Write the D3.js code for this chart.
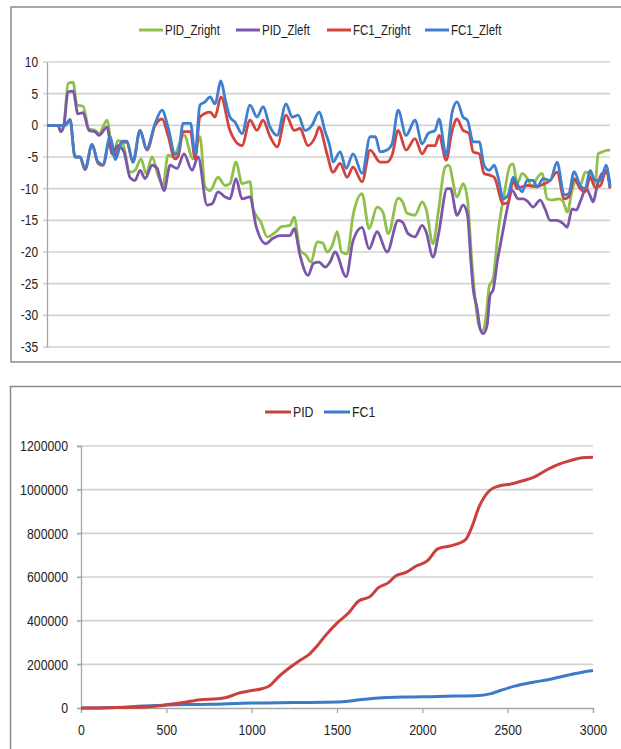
<!DOCTYPE html>
<html><head><meta charset="utf-8">
<script src="https://cdn.jsdelivr.net/npm/d3@7"></script>
<style>
html,body{margin:0;padding:0;background:#fff;}
svg{display:block;}
text{font-family:"Liberation Sans",Arial,sans-serif;fill:#222;}
</style></head>
<body>
<svg id="c" width="621" height="749"></svg>
<script>
// ---------- DATA ----------
const topSeriesNames = ["PID_Zright","PID_Zleft","FC1_Zright","FC1_Zleft"];
const topYTicks = [10,5,0,-5,-10,-15,-20,-25,-30,-35];

const pidZright = [[0,0],[59,0],[73,-1],[90,0],[112,6.6],[139,6.8],[160,3.2],[192,3],[224,-0.6],[256,-0.8],[277,-1.3],[320,0.8],[352,-4.7],[378,-2.4],[400,-2.6],[442,-7.4],[469,-7.1],[501,-5.3],[528,-7.6],[560,-5],[592,-7.9],[618,-9.5],[645,-4.7],[672,-5],[730,-1.5],[778,-5.3],[815,-1.8],[842,-9.7],[869,-10.3],[911,-8.2],[949,-9.5],[975,-9.2],[1007,-5.8],[1039,-9.2],[1082,-8.9],[1098,-13.2],[1140,-15.3],[1173,-17.6],[1220,-16.8],[1250,-16],[1295,-15.8],[1317,-14.5],[1348,-19.7],[1380,-20.5],[1407,-21.6],[1439,-18.4],[1470,-18.6],[1492,-20],[1520,-19],[1546,-16.8],[1570,-20],[1599,-20.3],[1631,-14.2],[1679,-10.8],[1716,-16.3],[1759,-12.9],[1790,-13.7],[1818,-17.1],[1871,-11.5],[1895,-12.1],[1919,-13.9],[1960,-14.2],[1999,-12.1],[2020,-13.2],[2057,-18.7],[2085,-13.7],[2121,-6.6],[2140,-6.3],[2185,-11.3],[2217,-9.2],[2240,-11.6],[2265,-22],[2280,-27],[2300,-31.5],[2320,-32.5],[2340,-30],[2356,-25.5],[2377,-24.2],[2404,-16.8],[2441,-10],[2468,-6.3],[2484,-6.1],[2505,-9.2],[2532,-7.6],[2560,-8.4],[2585,-9.7],[2610,-8.4],[2638,-7.6],[2665,-11.6],[2690,-11.8],[2730,-11.6],[2750,-12],[2772,-13.7],[2798,-10.3],[2820,-8.7],[2841,-9.5],[2868,-7.4],[2894,-7.6],[2921,-9.2],[2937,-4.5],[2958,-4.2],[2990,-3.9],[3000,-4]];

const pidZleft = [[0,0],[59,0],[73,-1],[90,0],[112,5.3],[139,5.4],[165,1.8],[192,2],[224,-0.8],[256,-1],[277,-1.6],[320,-0.3],[347,-4.5],[378,-3.2],[410,-4.2],[442,-8.2],[469,-8.7],[496,-7.1],[523,-8.4],[560,-6.3],[587,-6.8],[602,-8.4],[624,-10.3],[656,-6.3],[693,-6.8],[730,-4.5],[773,-7.1],[805,-5],[853,-12.6],[880,-12.4],[911,-10.5],[949,-11.3],[975,-11.6],[1007,-8.4],[1039,-11.6],[1082,-11.3],[1113,-15.8],[1167,-18.7],[1200,-17.9],[1240,-17.4],[1295,-17.4],[1317,-16.3],[1348,-20.5],[1391,-23.7],[1420,-21.8],[1450,-21.6],[1482,-22.4],[1508,-21.6],[1535,-20],[1594,-23.9],[1631,-18.2],[1679,-16.1],[1716,-19.5],[1759,-16.8],[1812,-20],[1871,-15],[1895,-15.3],[1924,-17.1],[1960,-17.6],[1999,-15.8],[2020,-16.8],[2057,-20.8],[2085,-17.4],[2132,-10],[2150,-10],[2185,-14.2],[2217,-12.6],[2240,-14],[2260,-22],[2271,-25.8],[2292,-28.9],[2308,-32.1],[2324,-32.9],[2345,-31.6],[2361,-26.8],[2377,-26],[2399,-21.6],[2425,-17.4],[2452,-13.2],[2479,-10.3],[2510,-11.6],[2540,-11.6],[2564,-12.1],[2590,-12.9],[2628,-11.8],[2654,-13.2],[2681,-15],[2718,-15],[2750,-15.5],[2772,-16.1],[2798,-13.2],[2820,-13.4],[2841,-12.1],[2873,-10],[2894,-11.1],[2910,-12.1],[2932,-9.5],[2958,-7.6],[2985,-7.4],[3000,-9.5]];

const fc1Zright = [[0,0],[96,0],[123,0.9],[149,-5],[176,-5],[203,-7],[240,-3],[272,-6],[298,-6.3],[336,-2.1],[362,-4.7],[400,-2.6],[426,-2.7],[458,-5.8],[496,-0.8],[533,-3.9],[576,0],[613,1],[645,-1.6],[682,-5.3],[700,-4.8],[725,-1],[765,-1],[789,-5.3],[815,1.3],[869,2.1],[895,1.3],[927,4.5],[975,-0.8],[1039,-3.2],[1082,0.8],[1119,-0.8],[1151,0.8],[1189,-1.8],[1226,-3.4],[1274,1.6],[1317,-0.8],[1348,-0.5],[1391,-3.2],[1430,-1.8],[1450,-0.3],[1492,-4.5],[1524,-7.4],[1562,-6],[1599,-8.2],[1631,-6.6],[1679,-8.9],[1722,-3.9],[1775,-5.8],[1812,-5.8],[1839,-4.7],[1871,-0.8],[1913,-3.9],[1961,-2.1],[1999,-4.5],[2031,-3.2],[2068,-3.2],[2089,-1.6],[2127,-5.5],[2159,-0.8],[2185,1],[2217,-0.8],[2232,-1],[2249,-1.3],[2271,-4.2],[2303,-4.5],[2329,-7.6],[2361,-7.9],[2383,-8.2],[2431,-12.4],[2457,-12.2],[2484,-8.7],[2505,-10],[2532,-9.7],[2564,-9.5],[2612,-9.7],[2644,-9.3],[2681,-8.7],[2718,-7.4],[2756,-11.6],[2780,-11.3],[2809,-8.4],[2841,-10],[2868,-10.5],[2894,-8.2],[2921,-9.8],[2950,-9.5],[2979,-7.1],[3000,-10]];

const fc1Zleft = [[0,0],[96,0],[123,0.9],[149,-5],[176,-5],[203,-6.9],[240,-3],[272,-5.8],[298,-6.2],[336,-1.8],[365,-5.4],[400,-2.5],[426,-2.5],[458,-5.8],[496,-0.8],[530,-3.8],[576,0.3],[613,2.4],[645,-0.3],[682,-4.5],[700,-4.3],[725,0.3],[765,0.3],[789,-4.5],[815,3.2],[842,3.7],[869,4.5],[895,3.4],[927,7],[949,4.2],[975,1.3],[1002,0.5],[1039,-1.3],[1082,3.2],[1119,1.3],[1151,2.9],[1189,-0.3],[1226,-1.6],[1274,3.4],[1306,1.3],[1338,1.6],[1375,-0.8],[1412,0],[1450,2.1],[1482,-1],[1508,-3.4],[1524,-5.8],[1562,-4.2],[1594,-6.8],[1631,-4.5],[1679,-7.6],[1722,-1.8],[1750,-1.8],[1775,-4.2],[1812,-3.9],[1839,-2.9],[1871,2.4],[1913,-1.6],[1961,0.8],[1999,-2.9],[2031,-1.3],[2068,-0.8],[2089,1],[2127,-4.7],[2159,2.1],[2185,3.7],[2217,1.3],[2240,0.8],[2271,-2.6],[2303,-2.6],[2329,-6.3],[2356,-7.1],[2383,-6.3],[2404,-8.2],[2431,-11.6],[2457,-11],[2484,-8.2],[2505,-9.2],[2532,-10.5],[2558,-8.7],[2590,-8.7],[2612,-9.7],[2644,-8.4],[2681,-8.7],[2718,-5.8],[2756,-11],[2780,-10.8],[2809,-7.3],[2841,-9.5],[2868,-10],[2894,-7.1],[2921,-8.7],[2950,-8.7],[2979,-6.3],[3000,-9.7]];

const botSeriesNames = ["PID","FC1"];
const botYTicks = [0,200000,400000,600000,800000,1000000,1200000];
const botXTicks = [0,500,1000,1500,2000,2500,3000];

const pidCost = [[0,0],[100,0],[200,2000],[300,3000],[400,6000],[460,10000],[500,15000],[600,25000],[650,32000],[700,38000],[800,42000],[850,48000],[920,67000],[1000,80000],[1060,88000],[1110,105000],[1150,137000],[1220,183000],[1289,221000],[1335,244000],[1381,282000],[1428,328000],[1500,389000],[1567,435000],[1625,489000],[1695,511000],[1741,550000],[1799,573000],[1846,606000],[1904,621000],[1962,649000],[2032,676000],[2090,729000],[2171,744000],[2252,770000],[2287,823000],[2333,922000],[2391,994000],[2449,1017000],[2519,1026000],[2589,1041000],[2658,1059000],[2728,1090000],[2798,1116000],[2868,1133000],[2937,1146000],[3000,1148000]];

const fc1Cost = [[0,0],[250,4000],[500,14000],[750,17000],[1000,23000],[1250,25000],[1500,27000],[1600,34000],[1706,44000],[1800,48000],[1900,50000],[2003,51000],[2100,53000],[2200,55000],[2310,56000],[2403,66000],[2449,78000],[2541,100000],[2650,118000],[2751,132000],[2850,150000],[2930,163000],[3000,172000]];

// ---------- DRAW ----------
const svg = d3.select("#c");
const gridCol = "#d2d2d2", axisCol = "#a6a6a6", frameCol = "#8a8a8a";
const colTop = {"PID_Zright":"#8fc04a","PID_Zleft":"#7b56aa","FC1_Zright":"#d2423f","FC1_Zleft":"#3f7fcf"};
const colBot = {"PID":"#c9403c","FC1":"#3b79c9"};

// narrow-font emulation: squeeze glyphs horizontally
function condense(sel, f){
  sel.each(function(){
    const w = this.getComputedTextLength();
    if (w>0) d3.select(this).attr("textLength", w*f).attr("lengthAdjust","spacingAndGlyphs");
  });
}
const F = 0.82;

// frames
svg.append("rect").attr("x",11).attr("y",7).attr("width",640).attr("height",355)
  .attr("fill","#fff").attr("stroke",frameCol).attr("stroke-width",1.5);
svg.append("rect").attr("x",10.5).attr("y",386.5).attr("width",640).attr("height",400)
  .attr("fill","#fff").attr("stroke",frameCol).attr("stroke-width",1.5);

// ---- top chart ----
const tx = d3.scaleLinear().domain([0,3000]).range([47,610]);
const ty = d3.scaleLinear().domain([-35,10]).range([347,62]);
const gTop = svg.append("g");
gTop.append("g").selectAll("line").data(topYTicks).join("line")
  .attr("x1",43).attr("x2",610).attr("y1",d=>ty(d)).attr("y2",d=>ty(d))
  .attr("stroke",gridCol).attr("stroke-width",1.6);
const ayTop = gTop.append("g").attr("transform","translate(47,0)")
  .call(d3.axisLeft(ty).tickValues(topYTicks).tickSize(0).tickPadding(9));
ayTop.select(".domain").attr("stroke",axisCol).attr("stroke-width",1.3);
ayTop.selectAll("text").style("font-size","14.5px").attr("fill","#222")
  .text(d=>d<0?"-"+Math.abs(d):d);
condense(ayTop.selectAll("text"), F);

const lineTop = d3.line().x(d=>tx(d[0])).y(d=>ty(d[1])).curve(d3.curveMonotoneX);
const topData = {"PID_Zright":pidZright,"PID_Zleft":pidZleft,"FC1_Zright":fc1Zright,"FC1_Zleft":fc1Zleft};
topSeriesNames.forEach(n=>{
  gTop.append("path").attr("d",lineTop(topData[n])).attr("fill","none")
    .attr("stroke",colTop[n]).attr("stroke-width",2.8).attr("stroke-linejoin","round");
});
// legend top
const legTop = [{n:"PID_Zright",x:139},{n:"PID_Zleft",x:236},{n:"FC1_Zright",x:327},{n:"FC1_Zleft",x:425}];
legTop.forEach(l=>{
  gTop.append("line").attr("x1",l.x).attr("x2",l.x+24).attr("y1",30).attr("y2",30)
    .attr("stroke",colTop[l.n]).attr("stroke-width",3);
  const t = gTop.append("text").attr("x",l.x+26).attr("y",30).attr("dy","0.35em")
    .style("font-size","14px").text(l.n);
  condense(t, F);
});

// ---- bottom chart ----
const bx = d3.scaleLinear().domain([0,3000]).range([81,593]);
const by = d3.scaleLinear().domain([0,1200000]).range([708,446]);
const gBot = svg.append("g");
gBot.append("g").selectAll("line").data(botYTicks.slice(1)).join("line")
  .attr("x1",77).attr("x2",593).attr("y1",d=>by(d)).attr("y2",d=>by(d))
  .attr("stroke",gridCol).attr("stroke-width",1.6);
const ayBot = gBot.append("g").attr("transform","translate(81,0)")
  .call(d3.axisLeft(by).tickValues(botYTicks).tickSize(4).tickPadding(9).tickFormat(d3.format("d")));
ayBot.select(".domain").attr("stroke",axisCol).attr("stroke-width",1.3);
ayBot.selectAll(".tick line").attr("stroke",axisCol).attr("stroke-width",1.3);
ayBot.selectAll("text").style("font-size","15px").attr("fill","#222");
condense(ayBot.selectAll("text"), F);
const axBot = gBot.append("g").attr("transform","translate(0,708)")
  .call(d3.axisBottom(bx).tickValues(botXTicks).tickSize(5).tickPadding(11).tickFormat(d3.format("d")));
axBot.select(".domain").attr("stroke",axisCol).attr("stroke-width",1.3);
axBot.selectAll(".tick line").attr("stroke",axisCol).attr("stroke-width",1.3);
axBot.selectAll("text").style("font-size","15px").attr("fill","#222");
condense(axBot.selectAll("text"), F);

const lineBot = d3.line().x(d=>bx(d[0])).y(d=>by(d[1])).curve(d3.curveMonotoneX);
const botData = {"PID":pidCost,"FC1":fc1Cost};
["FC1","PID"].forEach(n=>{
  gBot.append("path").attr("d",lineBot(botData[n])).attr("fill","none")
    .attr("stroke",colBot[n]).attr("stroke-width",3).attr("stroke-linejoin","round");
});
const legBot = [{n:"PID",x:265},{n:"FC1",x:324}];
legBot.forEach(l=>{
  gBot.append("line").attr("x1",l.x).attr("x2",l.x+26).attr("y1",412).attr("y2",412)
    .attr("stroke",colBot[l.n]).attr("stroke-width",3);
  const t = gBot.append("text").attr("x",l.x+28).attr("y",412).attr("dy","0.35em")
    .style("font-size","15px").text(l.n);
  condense(t, F);
});
</script>
</body></html>
